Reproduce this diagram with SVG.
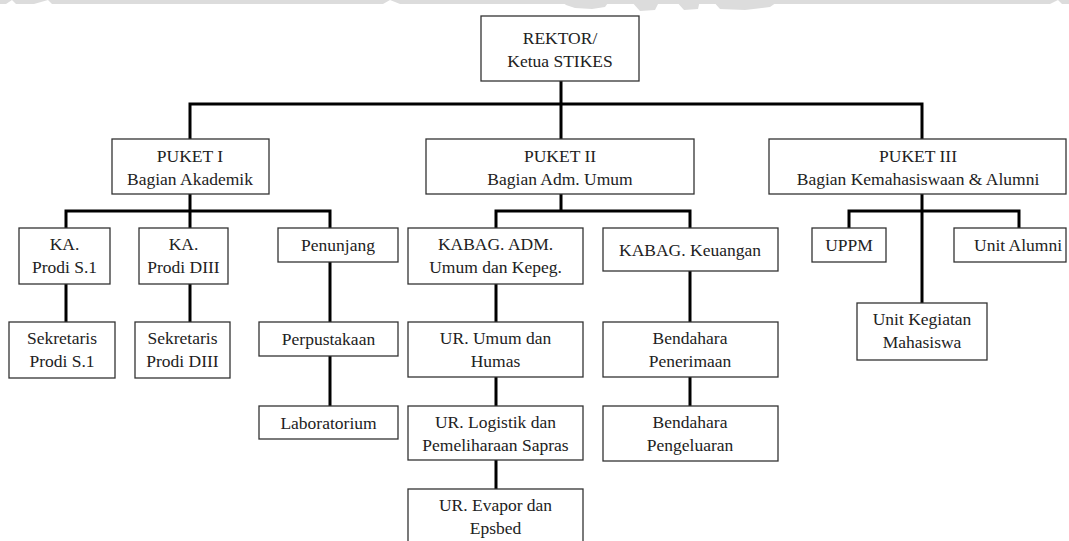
<svg xmlns="http://www.w3.org/2000/svg" width="1069" height="541" viewBox="0 0 1069 541">
<style>
.box{fill:#fff;stroke:#333;stroke-width:1.3}
.t{font-size:17.5px;fill:#222;text-anchor:middle}
.c{fill:none;stroke:#000;stroke-width:3;stroke-linejoin:miter}
.wm{fill:#dcdcdc}
</style>
<rect width="1069" height="541" fill="#fff"/>
<g id="watermark">
<polygon class="wm" points="0,0 1069,0 1069,4 1062,4 1058,0 1050,4 400,4 390,0 383,4 52,4 48,0 34,4 16,4 12,0 6,4 0,4"/>
<polygon class="wm" points="560,0 610,0 605,7 592,9 575,8 566,5"/>
<polygon class="wm" points="630,0 660,0 655,10 640,11"/>
<polygon class="wm" points="675,0 700,0 698,9 684,10"/>
<polygon class="wm" points="712,0 780,0 770,7 745,10 720,9"/>
</g>
<g id="connectors">
<path class="c" d="M561,81V139M190,139V104H922V139"/>
<path class="c" d="M190,194V228M66,228V211H330V228"/>
<path class="c" d="M561,194V211M496,228V211H690V228"/>
<path class="c" d="M922,194V303M849,228V211H1019V228"/>
<path class="c" d="M66,284V322M190,284V322M330,262V322M330,356V406"/>
<path class="c" d="M496,284V322M496,377V406M496,460V489"/>
<path class="c" d="M690,271V322M690,377V406"/>
</g>
<g id="nodes" font-family="Liberation Serif, Times New Roman, serif">
<g id="rektor"><rect class="box" x="481" y="16" width="158" height="65"/><text class="t" x="560" y="44">REKTOR/</text><text class="t" x="560" y="67">Ketua STIKES</text></g>
<g id="puket1"><rect class="box" x="112" y="139" width="157" height="55"/><text class="t" x="190" y="162">PUKET I</text><text class="t" x="190" y="185">Bagian Akademik</text></g>
<g id="puket2"><rect class="box" x="426" y="139" width="268" height="55"/><text class="t" x="560" y="162">PUKET II</text><text class="t" x="560" y="185">Bagian Adm. Umum</text></g>
<g id="puket3"><rect class="box" x="769" y="139" width="297" height="55"/><text class="t" x="918" y="162">PUKET III</text><text class="t" x="918" y="185">Bagian Kemahasiswaan &amp; Alumni</text></g>
<g id="ka-s1"><rect class="box" x="19" y="228" width="91" height="56"/><text class="t" x="64.5" y="250">KA.</text><text class="t" x="64.5" y="273">Prodi S.1</text></g>
<g id="ka-diii"><rect class="box" x="139" y="228" width="89" height="56"/><text class="t" x="183.5" y="250">KA.</text><text class="t" x="183.5" y="273">Prodi DIII</text></g>
<g id="penunjang"><rect class="box" x="278" y="228" width="120" height="34"/><text class="t" x="338" y="251">Penunjang</text></g>
<g id="kabag-adm"><rect class="box" x="408" y="228" width="175" height="56"/><text class="t" x="495.5" y="250">KABAG. ADM.</text><text class="t" x="495.5" y="273">Umum dan Kepeg.</text></g>
<g id="kabag-keu"><rect class="box" x="603" y="228" width="175" height="43"/><text class="t" x="690" y="255.5">KABAG. Keuangan</text></g>
<g id="uppm"><rect class="box" x="812" y="228" width="74" height="34"/><text class="t" x="849" y="251">UPPM</text></g>
<g id="alumni"><rect class="box" x="954" y="228" width="112" height="34"/><text class="t" x="1018" y="251">Unit Alumni</text></g>
<g id="sek-s1"><rect class="box" x="9" y="322" width="106" height="56"/><text class="t" x="62" y="344">Sekretaris</text><text class="t" x="62" y="367">Prodi S.1</text></g>
<g id="sek-diii"><rect class="box" x="135" y="322" width="95" height="56"/><text class="t" x="182.5" y="344">Sekretaris</text><text class="t" x="182.5" y="367">Prodi DIII</text></g>
<g id="perpus"><rect class="box" x="259" y="322" width="139" height="34"/><text class="t" x="328.5" y="345">Perpustakaan</text></g>
<g id="ur-umum"><rect class="box" x="408" y="322" width="175" height="55"/><text class="t" x="495.5" y="344">UR. Umum dan</text><text class="t" x="495.5" y="367">Humas</text></g>
<g id="bend-pen"><rect class="box" x="603" y="322" width="175" height="55"/><text class="t" x="690" y="344">Bendahara</text><text class="t" x="690" y="367">Penerimaan</text></g>
<g id="ukm"><rect class="box" x="857" y="303" width="130" height="57"/><text class="t" x="922" y="325">Unit Kegiatan</text><text class="t" x="922" y="348">Mahasiswa</text></g>
<g id="lab"><rect class="box" x="259" y="406" width="139" height="33"/><text class="t" x="328.5" y="428.5">Laboratorium</text></g>
<g id="ur-logistik"><rect class="box" x="408" y="406" width="175" height="54"/><text class="t" x="495.5" y="428">UR. Logistik dan</text><text class="t" x="495.5" y="451">Pemeliharaan Sapras</text></g>
<g id="bend-peng"><rect class="box" x="603" y="406" width="175" height="55"/><text class="t" x="690" y="428">Bendahara</text><text class="t" x="690" y="451">Pengeluaran</text></g>
<g id="ur-evapor"><rect class="box" x="408" y="489" width="175" height="56"/><text class="t" x="495.5" y="511">UR. Evapor dan</text><text class="t" x="495.5" y="534">Epsbed</text></g>
</g>
</svg>
